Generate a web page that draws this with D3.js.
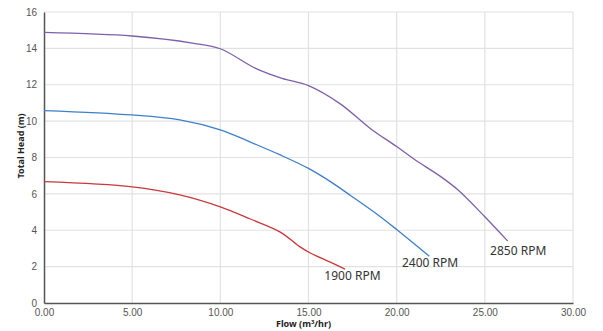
<!DOCTYPE html>
<html>
<head>
<meta charset="utf-8">
<script src="https://cdn.jsdelivr.net/npm/d3@7"></script>
<style>
  body { margin: 0; background: #fff; }
  svg { display: block; font-family: "Noto Sans", sans-serif; }
</style>
</head>
<body>
<svg id="chart"></svg>
<script>
const width = 603, height = 331, margin = { top: 12, right: 30, bottom: 28, left: 44 };
const plotWidth = width - margin.left - margin.right;
const plotHeight = height - margin.top - margin.bottom;

// Tick values
const xTicks = [0, 5, 10, 15, 20, 25, 30];
const yTicks = [0, 2, 4, 6, 8, 10, 12, 14, 16];

// Pump curves: flow (m3/hr) vs head (m)
const flow2850 = [0, 5, 8.5, 10, 12, 13.5, 15, 16.8, 18.5, 20, 21, 22.5, 23.5, 25, 26.3];
const head2850 = [14.88, 14.68, 14.28, 13.98, 12.9, 12.35, 11.95, 10.95, 9.6, 8.6, 7.9, 6.95, 6.2, 4.74, 3.4];

const flow2400 = [0, 5, 7.7, 10, 11.7, 13.4, 15, 16.2, 17.4, 19, 20, 21.85];
const head2400 = [10.58, 10.34, 10.07, 9.52, 8.85, 8.14, 7.4, 6.7, 5.9, 4.8, 4.04, 2.57];

const flow1900 = [0, 5, 7.7, 10, 11.7, 13.4, 14.5, 15.1, 16.2, 17.07];
const head1900 = [6.67, 6.39, 5.95, 5.29, 4.62, 3.9, 3.1, 2.75, 2.26, 1.86];

const seriesNames = ["2850 RPM", "2400 RPM", "1900 RPM"];
const seriesColors = ["#7e60aa", "#3f7fca", "#c9383b"];
// label anchor in data units
const labelX = [25.3, 20.3, 15.9];
const labelY = [2.63, 1.98, 1.25];

const series = [
  { flow: flow2850, head: head2850 },
  { flow: flow2400, head: head2400 },
  { flow: flow1900, head: head1900 }
];

const svg = d3.select("#chart")
  .attr("width", width)
  .attr("height", height);

const g = svg.append("g")
  .attr("transform", `translate(${margin.left},${margin.top})`);

const xScale = d3.scaleLinear().domain([0, 30]).range([0, plotWidth]);
const yScale = d3.scaleLinear().domain([0, 16]).range([plotHeight, 0]);

// Gridlines
g.append("g")
  .selectAll("line")
  .data(yTicks.filter(d => d > 0))
  .enter()
  .append("line")
  .attr("x1", 0)
  .attr("x2", plotWidth)
  .attr("y1", d => yScale(d))
  .attr("y2", d => yScale(d))
  .attr("stroke", "#e2e2e2")
  .attr("stroke-width", 1.2);

g.append("g")
  .selectAll("line")
  .data(xTicks.filter(d => d > 0))
  .enter()
  .append("line")
  .attr("x1", d => xScale(d))
  .attr("x2", d => xScale(d))
  .attr("y1", 0)
  .attr("y2", plotHeight)
  .attr("stroke", "#e2e2e2")
  .attr("stroke-width", 1.2);

// Axes
const xAxis = g.append("g")
  .attr("transform", `translate(0,${plotHeight})`)
  .call(d3.axisBottom(xScale).tickValues(xTicks).tickFormat(d3.format(".2f")).tickSize(0).tickPadding(6));

const yAxis = g.append("g")
  .call(d3.axisLeft(yScale).tickValues(yTicks).tickSize(0).tickPadding(7));

[xAxis, yAxis].forEach(ax => {
  ax.select(".domain").attr("stroke", "#555").attr("stroke-width", 1.5);
  ax.selectAll("text")
    .attr("fill", "#555")
    .style("font-size", "10px");
});

// Curves
const line = d3.line()
  .x(d => xScale(d[0]))
  .y(d => yScale(d[1]))
  .curve(d3.curveCatmullRom.alpha(0.5));

series.forEach((s, i) => {
  g.append("path")
    .datum(d3.zip(s.flow, s.head))
    .attr("fill", "none")
    .attr("stroke", seriesColors[i])
    .attr("stroke-width", 1.3)
    .attr("d", line);

  g.append("text")
    .attr("x", xScale(labelX[i]))
    .attr("y", yScale(labelY[i]))
    .attr("fill", "#333")
    .style("font-size", "12px")
    .text(seriesNames[i]);
});

// Axis titles
svg.append("text")
  .attr("x", margin.left + plotWidth * 0.5 - 5)
  .attr("y", 327)
  .attr("text-anchor", "middle")
  .attr("fill", "#222")
  .style("font-size", "9px")
  .style("font-weight", "bold")
  .html("Flow (m<tspan dy='-3' font-size='6px'>3</tspan><tspan dy='3'>/hr)</tspan>");

svg.append("text")
  .attr("transform", "translate(24,146) rotate(-90)")
  .attr("text-anchor", "middle")
  .attr("fill", "#222")
  .style("font-size", "9px")
  .style("font-weight", "bold")
  .text("Total Head (m)");
</script>
</body>
</html>
